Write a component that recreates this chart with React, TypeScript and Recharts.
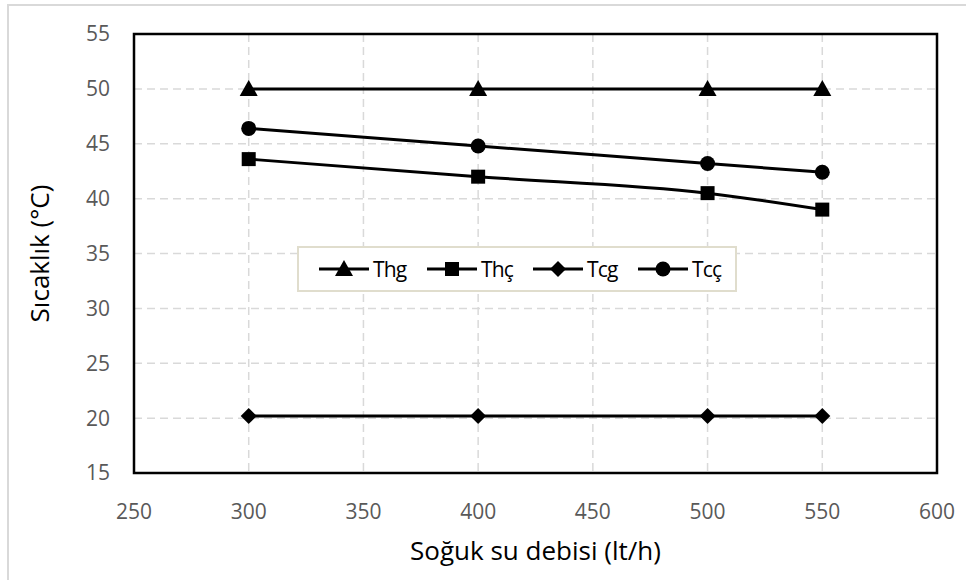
import React from "react";
import {
    LineChart,
    Line,
    XAxis,
    YAxis,
    CartesianGrid,
    ReferenceArea,
    Label,
} from "recharts";

const debi = [300, 400, 500, 550];
const thg = [50, 50, 50, 50];
const thc = [43.6, 42.0, 40.5, 39.0];
const tcg = [20.2, 20.2, 20.2, 20.2];
const tcc = [46.4, 44.8, 43.2, 42.4];

const xTicks = [250, 300, 350, 400, 450, 500, 550, 600];
const yTicks = [15, 20, 25, 30, 35, 40, 45, 50, 55];

const data = debi.map((d, i) => ({
    debi: d,
    Thg: thg[i],
    Thc: thc[i],
    Tcg: tcg[i],
    Tcc: tcc[i],
}));

const FONT = "'Open Sans', sans-serif";

type Shape = "triangle" | "square" | "diamond" | "circle";

function marker(shape: Shape, cx: number, cy: number, key?: string) {
    switch (shape) {
        case "triangle":
            return (
                <polygon
                    key={key}
                    points={`${cx},${cy - 9} ${cx + 9},${cy + 7} ${cx - 9},${cy + 7}`}
                    fill="#000"
                />
            );
        case "square":
            return <rect key={key} x={cx - 7} y={cy - 7} width={14} height={14} fill="#000" />;
        case "diamond":
            return (
                <polygon
                    key={key}
                    points={`${cx},${cy - 8} ${cx + 8},${cy} ${cx},${cy + 8} ${cx - 8},${cy}`}
                    fill="#000"
                />
            );
        default:
            return <circle key={key} cx={cx} cy={cy} r={7.5} fill="#000" />;
    }
}

const series: { key: string; name: string; shape: Shape }[] = [
    { key: "Thg", name: "Thg", shape: "triangle" },
    { key: "Thc", name: "Thç", shape: "square" },
    { key: "Tcg", name: "Tcg", shape: "diamond" },
    { key: "Tcc", name: "Tcç", shape: "circle" },
];

// legend entry offsets inside the box
const legendLeft = [19, 127, 233, 338];

function LegendBox() {
    return (
        <div
            style={{
                position: "absolute",
                left: 297,
                top: 246,
                boxSizing: "border-box",
                width: 440,
                height: 46,
                border: "2px solid #e0ddcd",
                background: "#fff",
                fontFamily: FONT,
                fontSize: 21,
                color: "#000",
            }}
        >
            {series.map((s, i) => (
                <div
                    key={s.key}
                    style={{
                        position: "absolute",
                        left: legendLeft[i],
                        top: 0,
                        height: 42,
                        display: "flex",
                        alignItems: "center",
                    }}
                >
                    <svg width={52} height={20}>
                        <line x1={1} y1={10} x2={51} y2={10} stroke="#000" strokeWidth={3} />
                        {marker(s.shape, 26, 10)}
                    </svg>
                    <span style={{ marginLeft: 3, letterSpacing: -0.8 }}>{s.name}</span>
                </div>
            ))}
        </div>
    );
}

export default function App() {
    return (
        <div style={{ position: "absolute", left: 0, top: 0, width: 966, height: 580, background: "#fff" }}>
            <div
                style={{
                    position: "absolute",
                    left: 7,
                    top: 4,
                    right: 0,
                    bottom: 0,
                    borderTop: "2px solid #d9d9d9",
                    borderLeft: "2px solid #d9d9d9",
                }}
            />
            <LineChart
                width={966}
                height={580}
                data={data}
                margin={{ top: 34, right: 29, bottom: 0, left: 0 }}
                style={{ position: "absolute", left: 0, top: 0 }}
            >
                <CartesianGrid stroke="#d9d9d9" strokeDasharray="8 5" strokeWidth={1.5} />
                <XAxis
                    dataKey="debi"
                    type="number"
                    domain={[250, 600]}
                    ticks={xTicks}
                    height={107}
                    axisLine={false}
                    tickLine={false}
                    tickSize={0}
                    tickMargin={31}
                    tick={{ fill: "#595959", fontSize: 21, fontFamily: FONT }}
                >
                    <Label
                        value="Soğuk su debisi (lt/h)"
                        position="insideBottom"
                        offset={20}
                        style={{ fill: "#000", fontSize: 26, fontFamily: FONT }}
                    />
                </XAxis>
                <YAxis
                    type="number"
                    domain={[15, 55]}
                    ticks={yTicks}
                    width={134}
                    axisLine={false}
                    tickLine={false}
                    tickSize={0}
                    tickMargin={24}
                    tick={{ fill: "#595959", fontSize: 21, fontFamily: FONT }}
                >
                    <Label
                        value="Sıcaklık (°C)"
                        angle={-90}
                        position="insideLeft"
                        offset={40}
                        style={{ fill: "#000", fontSize: 26, fontFamily: FONT, textAnchor: "middle" }}
                    />
                </YAxis>
                <ReferenceArea x1={250} x2={600} y1={15} y2={55} fill="none" stroke="#000" strokeWidth={2.5} />
                {series.map((s) => (
                    <Line
                        key={s.key}
                        type="monotone"
                        dataKey={s.key}
                        name={s.name}
                        stroke="#000"
                        strokeWidth={3}
                        isAnimationActive={false}
                        dot={(p: any) => marker(s.shape, p.cx, p.cy, `${s.key}-${p.index}`)}
                        activeDot={false}
                    />
                ))}
            </LineChart>
            <LegendBox />
        </div>
    );
}
